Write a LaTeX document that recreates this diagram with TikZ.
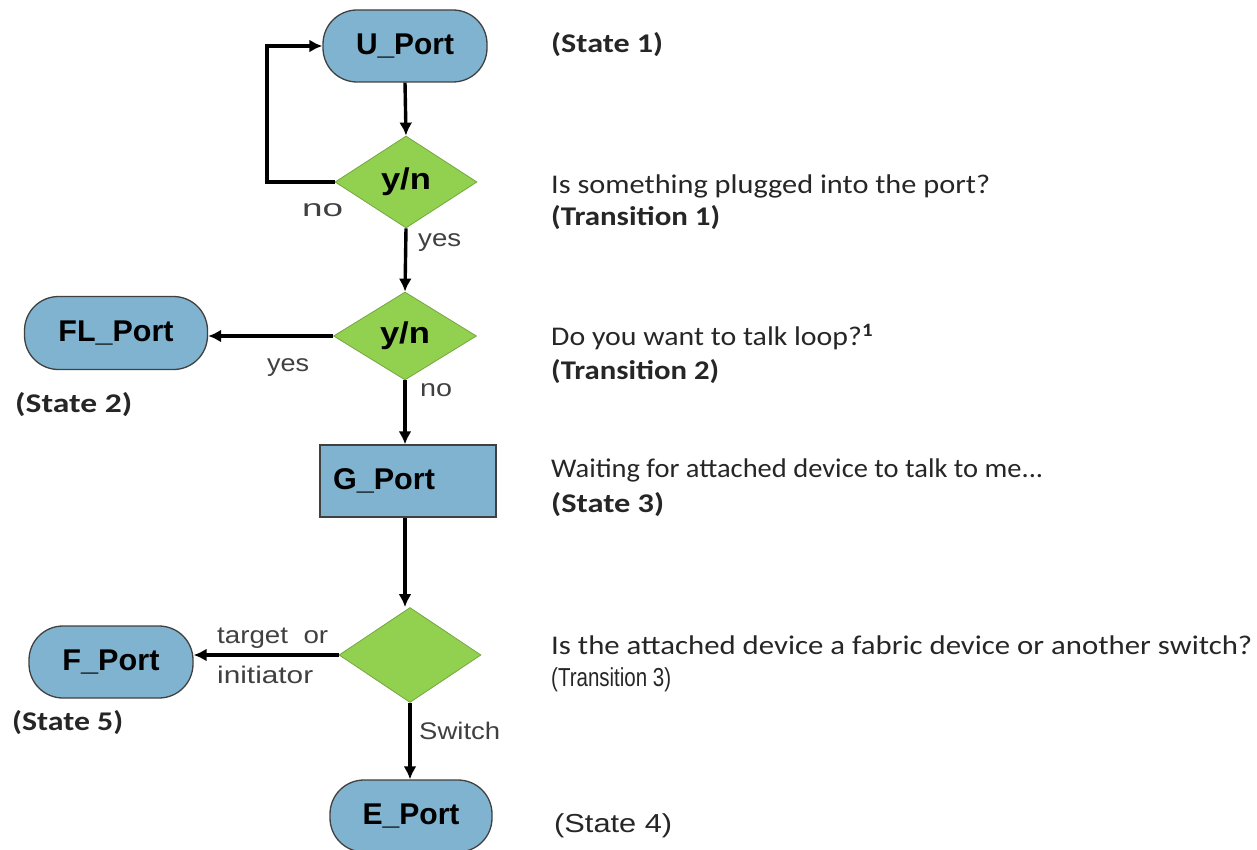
\documentclass[tikz,border=0pt]{standalone}
\usepackage{fontspec}
\usepackage{graphicx}
\setmainfont{Carlito}
\newfontfamily\arialf{Liberation Sans}
\usetikzlibrary{shapes.geometric,arrows.meta}
\definecolor{portblue}{RGB}{127,179,207}
\definecolor{decgreen}{RGB}{146,208,80}
\definecolor{edge}{RGB}{64,64,64}
\definecolor{ink}{RGB}{38,38,38}
% set a text to a given width, keeping its height
\newcommand{\fw}[2]{\resizebox{#1}{\height}{#2}}
\tikzset{
  port/.style={draw=edge, line width=1.3pt, fill=portblue, rounded corners=34pt,
    inner sep=0pt, font=\arialf\bfseries\fontsize{30}{30}\selectfont, text=black},
  portbox/.style={draw=edge, line width=1.3pt, fill=portblue,
    inner sep=0pt, font=\arialf\bfseries\fontsize{30}{30}\selectfont, text=black},
  decision/.style={diamond, draw=decgreen!80!black, line width=0.8pt, fill=decgreen,
    inner sep=0pt, font=\arialf\bfseries\fontsize{30}{30}\selectfont, text=black},
  arr/.style={line width=3.4pt, -{Latex[length=13pt,width=13pt]}},
  edgelbl/.style={anchor=west, inner sep=0pt, text=edge, font=\arialf\fontsize{24}{24}\selectfont},
  note/.style={anchor=west, inner sep=0pt, text=ink, font=\fontsize{27}{27}\selectfont},
  notebf/.style={anchor=west, inner sep=0pt, text=ink, font=\fontsize{27}{27}\selectfont\bfseries},
  notenarrow/.style={anchor=west, inner sep=0pt, text=ink, font=\arialf\fontsize{26}{26}\selectfont},
}
\begin{document}
\begin{tikzpicture}[x=1pt,y=-1pt]
\useasboundingbox (0,0) rectangle (1257,850);
\clip (0,0) rectangle (1257,850);

% states and decisions
\node[port, minimum width=164pt, minimum height=72pt] (U) at (405,46) {\fw{98pt}{U\_Port}};
\node[decision, minimum width=142pt, minimum height=92pt] (d1) at (406,182) {\fw{50pt}{y/n}};
\node[decision, minimum width=143pt, minimum height=88pt] (d2) at (405,336) {\fw{50pt}{y/n}};
\node[port, minimum width=183pt, minimum height=73pt] (FL) at (116,333) {\fw{115pt}{FL\_Port}};
\node[portbox, minimum width=176pt, minimum height=72pt] (G) at (408,481) {\hspace*{-48pt}\fw{102pt}{G\_Port}};
\node[decision, minimum width=142pt, minimum height=95pt] (d3) at (410,655) {};
\node[port, minimum width=164pt, minimum height=72pt] (F) at (111,662) {\fw{97pt}{F\_Port}};
\node[port, minimum width=162pt, minimum height=72pt] (E) at (411,816) {\fw{97pt}{E\_Port}};

% connectors
\coordinate (lp) at (267,182);
\draw[arr] (U.south) -- (d1.north);
\draw[arr] (d1.west) -- (lp) |- (U.west);
\draw[arr] (d1.south) -- (d2.north);
\draw[arr] (d2.west) -- (d2.west -| FL.east);
\draw[arr] (d2.south) -- (G.north -| d2.south);
\draw[arr] (G.south -| d2.south) -- (d3.north -| d2.south);
\draw[arr] (d3.west) -- (d3.west -| F.east);
\draw[arr] (d3.south) -- (E.north -| d3.south);

% connector labels
\node[edgelbl] (l1) at (302,210) {\fw{41pt}{no}};
\node[edgelbl] (l2) at (418,243) {\fw{43pt}{yes}};
\node[edgelbl] (l3) at (267,368) {\fw{42pt}{yes}};
\node[edgelbl] (l4) at (420,390) {\fw{32pt}{no}};
\node[edgelbl] (l5) at (217,638) {\fw{111pt}{target\ \ or}};
\node[edgelbl] (l6) at (217,675) {\fw{96pt}{initiator}};
\node[edgelbl] (l7) at (419,731) {\fw{81pt}{Switch}};

% state captions beside the chart
\node[notebf] (s2) at (15,405) {\fw{117pt}{(State 2)}};
\node[notebf] (s5) at (12,723) {\fw{111pt}{(State 5)}};
\node[notebf] (s1) at (551,45) {\fw{112pt}{(State 1)}};
\node[note] (q1) at (551,186) {\fw{439pt}{Is something plugged into the port?}};
\node[notebf] (t1) at (551,218) {\fw{169pt}{(Transition 1)}};
\node[note] (q2) at (551,337) {\fw{322pt}{Do you want to talk loop?\textsuperscript{\bfseries 1}}};
\node[notebf] (t2) at (551,372) {\fw{168pt}{(Transition 2)}};
\node[note] (q3) at (551,470) {\fw{492pt}{Waiting for attached device to talk to me...}};
\node[notebf] (s3) at (551,505) {\fw{113pt}{(State 3)}};
\node[note] (q4) at (551,645) {\fw{701pt}{Is the attached device a fabric device or another switch?}};
\node[notenarrow] (t3) at (551,680) {\fw{120pt}{(Transition 3)}};
\node[notenarrow] (s4) at (554,826) {\fw{118pt}{(State 4)}};
\end{tikzpicture}
\end{document}
